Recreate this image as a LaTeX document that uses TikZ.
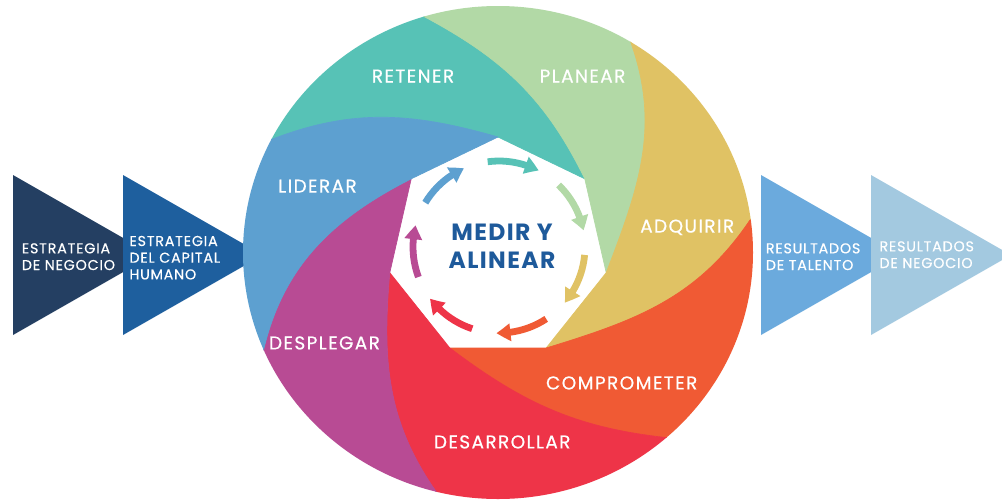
\documentclass[tikz,border=0pt]{standalone}
\usepackage{fontspec}
\setmainfont{Poppins}
\newfontfamily\lblfont[LetterSpace=7.5,FakeBold=0.5]{Poppins}
\newfontfamily\trifont[LetterSpace=5.5,FakeBold=0.4]{Poppins}
\newfontfamily\ctrfont[LetterSpace=6]{Poppins}
\usetikzlibrary{arrows.meta,bending,calc}
\definecolor{cteal}{HTML}{57C2B6}
\definecolor{cgreen}{HTML}{B2D9A6}
\definecolor{cyellow}{HTML}{E0C264}
\definecolor{corange}{HTML}{F05A34}
\definecolor{cred}{HTML}{EE3448}
\definecolor{cpurple}{HTML}{B84B94}
\definecolor{cblue}{HTML}{5DA0D0}
\definecolor{tnavy}{HTML}{243F62}
\definecolor{tdblue}{HTML}{1E5F9E}
\definecolor{tmblue}{HTML}{6BAADD}
\definecolor{tlblue}{HTML}{A3C9E0}
\definecolor{ctext}{HTML}{1E5A9B}
\begin{document}
\begin{tikzpicture}[x=1pt,y=1pt,
  seg/.style={fill=#1, draw=#1, line width=0.7pt, line join=round},
  seglbl/.style={text=white, font=\lblfont\fontsize{18.5}{20}\selectfont, inner sep=0pt, anchor=base},
  trilbl/.style={text=white, font=\trifont\fontsize{14.3}{16.7}\selectfont, align=left, inner sep=0pt, anchor=west},
  cyc/.style={draw=#1, line width=6.8pt, -{Triangle[width=17pt,length=14pt,bend]}},
]
\useasboundingbox (0,0) rectangle (1002,-499);
\fill[white] (0,0) rectangle (1002,-499);
% chevrons
\fill[tnavy] (13,-175) -- (153,-255) -- (13,-335) -- cycle;
\fill[tdblue] (123,-175) -- (263,-255) -- (123,-335) -- cycle;
\fill[tmblue] (761,-175) -- (901,-255) -- (761,-335) -- cycle;
\fill[tlblue] (871,-175) -- (1011,-255) -- (871,-335) -- cycle;
\node[trilbl] (t1) at (21.7,-256.7) {ESTRATEGIA\\DE NEGOCIO};
\node[trilbl] (t2) at (129.3,-257.7) {ESTRATEGIA\\DEL CAPITAL\\HUMANO};
\node[trilbl] (t3) at (765.7,-256.7) {RESULTADOS\\DE TALENTO};
\node[trilbl] (t4) at (879.3,-254.7) {RESULTADOS\\DE NEGOCIO};
% wheel
\coordinate (E) at (498,-252.5);
\coordinate (H) at (498,-248);
\foreach \k in {0,...,6} {\coordinate (V\k) at ($(H)+({90-51.4286*\k}:111)$);}
\coordinate (P0) at (265,-142);
\coordinate (P1) at (423,-16);
\coordinate (P2) at (630,-40);
\coordinate (P3) at (750,-220);
\coordinate (P4) at (670,-438);
\coordinate (P5) at (440,-497);
\coordinate (P6) at (262,-357);
\begin{scope}
\clip (E) ellipse [x radius=255, y radius=246.5];
\path[seg=cteal] (V0) -- (V1) to[out=116,in=-28] (P1) -- ($(E)!2.2!(P1)$) -- ($(E)!2.2!(P0)$) -- (P0) to[out=22,in=164] (V0) -- cycle;
\path[seg=cgreen] (V1) -- (V2) to[out=69,in=-70] (P2) -- ($(E)!2.2!(P2)$) -- ($(E)!2.2!(P1)$) -- (P1) to[out=-28,in=116] (V1) -- cycle;
\path[seg=cyellow] (V2) -- (V3) to[out=17,in=-124] (P3) -- ($(E)!2.2!(P3)$) -- ($(E)!2.2!(P2)$) -- (P2) to[out=-70,in=69] (V2) -- cycle;
\path[seg=corange] (V3) -- (V4) to[out=-37,in=174] (P4) -- ($(E)!2.2!(P4)$) -- ($(E)!2.2!(P3)$) -- (P3) to[out=-124,in=17] (V3) -- cycle;
\path[seg=cred] (V4) -- (V5) to[out=-95,in=126] (P5) -- ($(E)!2.2!(P5)$) -- ($(E)!2.2!(P4)$) -- (P4) to[out=174,in=-37] (V4) -- cycle;
\path[seg=cpurple] (V5) -- (V6) to[out=207,in=78] (P6) -- ($(E)!2.2!(P6)$) -- ($(E)!2.2!(P5)$) -- (P5) to[out=126,in=-95] (V5) -- cycle;
\path[seg=cblue] (V6) -- (V0) to[out=164,in=22] (P0) -- ($(E)!2.2!(P0)$) -- ($(E)!2.2!(P6)$) -- (P6) to[out=78,in=207] (V6) -- cycle;
\end{scope}
\node[seglbl] (retener) at (413,-82.5) {RETENER};
\node[seglbl] (planear) at (582.5,-82.5) {PLANEAR};
\node[seglbl] (liderar) at (317.5,-192.6) {LIDERAR};
\node[seglbl] (adquirir) at (687.2,-232.6) {ADQUIRIR};
\node[seglbl] (desplegar) at (324.5,-349.4) {DESPLEGAR};
\node[seglbl] (comprometer) at (621.7,-389.4) {COMPROMETER};
\node[seglbl] (desarrollar) at (502.2,-448.4) {DESARROLLAR};
% cycle arrows
\coordinate (A) at (499,-247);
\foreach \k/\c in {0/cblue,1/cteal,2/cgreen,3/cyellow,4/corange,5/cred,6/cpurple}{
  \pgfmathsetmacro\sa{149-51.4286*\k}
  \draw[cyc=\c] ($(A)+(\sa:86)$) arc[start angle=\sa, end angle=\sa-35, radius=86];
}
\node[text=ctext, font=\ctrfont\bfseries\fontsize{23.5}{28}\selectfont, align=center, inner sep=0pt] (medir) at (502,-246) {MEDIR Y\\ALINEAR};
\end{tikzpicture}
\end{document}
